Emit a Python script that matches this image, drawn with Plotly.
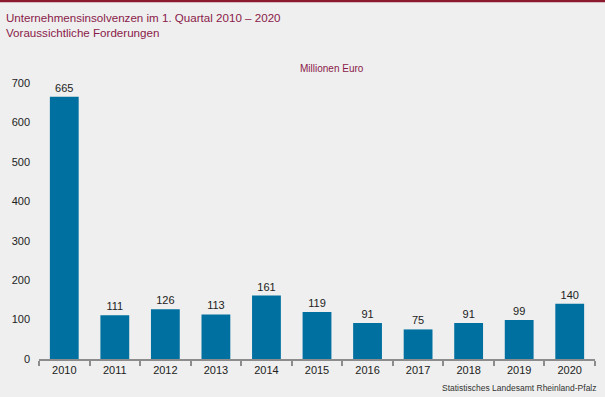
import plotly.graph_objects as go

years = ["2010", "2011", "2012", "2013", "2014", "2015", "2016", "2017", "2018", "2019", "2020"]
values = [665, 111, 126, 113, 161, 119, 91, 75, 91, 99, 140]
y_ticks = [0, 100, 200, 300, 400, 500, 600, 700]

BG = "#eeefee"
BAR = "#0070a0"
TITLE = "#8b1a4a"

L, R, T, B = 39, 10, 83, 38
W, H = 605, 397
PW, PH = W - L - R, H - T - B

def px(x):
    return (x - L) / PW

def py(y):
    return (H - B - y) / PH

fig = go.Figure(go.Bar(
    x=years, y=values, marker=dict(color=BAR, line=dict(width=0)),
    text=[str(v) for v in values], textposition="outside",
    textfont=dict(family="Liberation Sans, Arial", size=11, color="#222222"),
    cliponaxis=False, width=0.57,
))

fig.update_layout(
    width=W, height=H,
    paper_bgcolor=BG, plot_bgcolor=BG,
    margin=dict(l=L, r=R, t=T, b=B, autoexpand=False),
    showlegend=False,
    font=dict(family="Liberation Sans, Arial", size=11, color="#222222"),
    xaxis=dict(
        automargin=False,
        showline=True, linecolor="#8c8c8c", linewidth=1.5,
        ticks="outside", tickson="boundaries", ticklen=5, tickcolor="#8c8c8c", tickwidth=1.5,
        showgrid=False, tickfont=dict(size=11, color="#222222"),
    ),
    yaxis=dict(
        automargin=False,
        range=[0, 700], tickvals=y_ticks, showgrid=False, zeroline=False,
        showline=False, ticks="", ticklabelstandoff=8,
        tickfont=dict(size=11, color="#222222"),
    ),
    shapes=[dict(type="line", xref="paper", yref="paper",
                 x0=px(0), x1=px(W), y0=py(1), y1=py(1),
                 line=dict(color="#8b1a2e", width=2.5))],
    annotations=[
        dict(text="Unternehmensinsolvenzen im 1. Quartal 2010 – 2020<br>Voraussichtliche Forderungen",
             xref="paper", yref="paper", x=px(4), y=py(9), xanchor="left", yanchor="top",
             showarrow=False, align="left", font=dict(size=11.6, color=TITLE)),
        dict(text="Millionen Euro", xref="paper", yref="paper", x=px(332), y=py(68),
             xanchor="center", yanchor="middle", showarrow=False, font=dict(size=10, color=TITLE)),
        dict(text="Statistisches Landesamt Rheinland-Pfalz", xref="paper", yref="paper",
             x=px(599), y=py(388), xanchor="right", yanchor="middle",
             showarrow=False, font=dict(size=8.5, color="#333333")),
    ],
)

fig.write_html(
    "out.html",
    config={"displayModeBar": False},
    post_script="document.body.style.margin='0';document.body.style.background='#eeefee';",
)
